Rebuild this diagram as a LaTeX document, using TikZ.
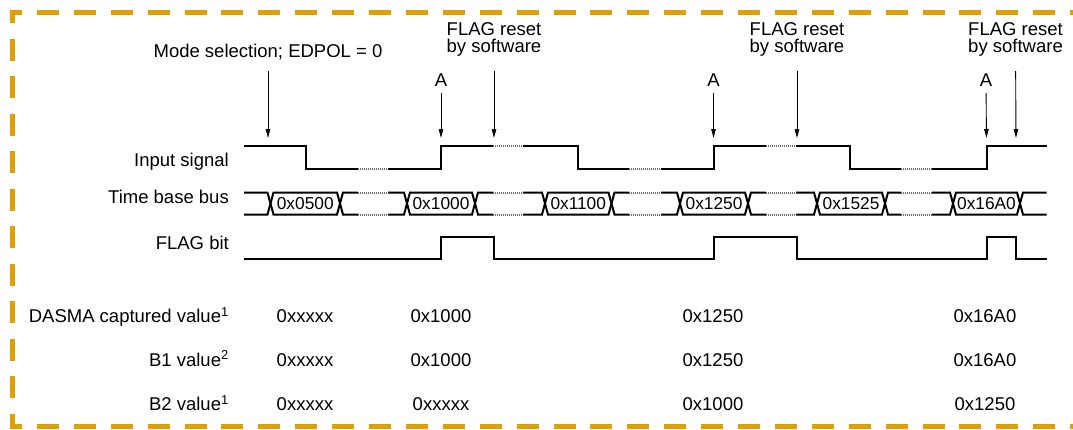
\documentclass[tikz,border=0pt]{standalone}
\usepackage{fontspec}
\setmainfont{Liberation Sans}
\usetikzlibrary{arrows.meta}
\definecolor{borderorange}{RGB}{224,160,0}
\definecolor{dotgray}{RGB}{110,110,110}
\begin{document}
\begin{tikzpicture}[x=1pt,y=-1pt,
  txt/.style={inner sep=0pt, font=\fontsize{18.5}{17.6}\selectfont},
  bustxt/.style={inner sep=0pt, font=\fontsize{17.3}{20}\selectfont, anchor=base},
  wave/.style={line width=2pt, line join=miter},
  brk/.style={line width=2.8pt, draw=white},
  brkdots/.style={line width=2pt, draw=dotgray, dash pattern=on 1.2pt off 0.8pt},
  arr/.style={line width=0.9pt, -{Triangle[length=9pt,width=4.5pt]}},
  bordh/.style={line width=5pt, draw=borderorange, dash pattern=on 22pt off 14.9pt, dash phase=9.5pt},
  bordv/.style={line width=5pt, draw=borderorange, dash pattern=on 22pt off 15.5pt, dash phase=11.5pt},
]
\useasboundingbox (0,0) rectangle (1073,429);

% dashed frame
\draw[bordh] (9.5,12.5) -- (1073,12.5);
\draw[bordh] (9.5,426.5) -- (1073,426.5);
\draw[bordv] (12,12.5) -- (12,426.5);

% ---------------- Input signal
\draw[wave] (244,146) -- (305.5,146) -- (305.5,169) -- (441,169) -- (441,146)
  -- (578,146) -- (578,169) -- (713.5,169) -- (713.5,146) -- (849.5,146)
  -- (849.5,169) -- (986.5,169) -- (986.5,146) -- (1046.5,146);

% ---------------- Time base bus
\draw[wave] (244,192.5)
  foreach \c/\ya/\yb in {270.5/192.5/214.5, 340/214.5/192.5, 407/192.5/214.5, 475/214.5/192.5,
                         545/192.5/214.5, 611.5/214.5/192.5, 680/192.5/214.5, 748/214.5/192.5,
                         817/192.5/214.5, 885/214.5/192.5, 953/192.5/214.5, 1020/214.5/192.5}
  { -- (\c-3,\ya) -- (\c+3,\yb) } -- (1046.5,192.5);
\draw[wave] (244,214.5)
  foreach \c/\ya/\yb in {270.5/214.5/192.5, 340/192.5/214.5, 407/214.5/192.5, 475/192.5/214.5,
                         545/214.5/192.5, 611.5/192.5/214.5, 680/214.5/192.5, 748/192.5/214.5,
                         817/214.5/192.5, 885/192.5/214.5, 953/214.5/192.5, 1020/192.5/214.5}
  { -- (\c-3,\ya) -- (\c+3,\yb) } -- (1046.5,214.5);

\node[bustxt] (v1) at (305.25,209.6) {0x0500};
\node[bustxt] (v2) at (441,209.6) {0x1000};
\node[bustxt] (v3) at (578.25,209.6) {0x1100};
\node[bustxt] (v4) at (714,209.6) {0x1250};
\node[bustxt] (v5) at (851,209.6) {0x1525};
\node[bustxt] (v6) at (986.5,209.6) {0x16A0};

% ---------------- FLAG bit
\draw[wave] (244,259) -- (441,259) -- (441,237) -- (494,237) -- (494,259)
  -- (713.5,259) -- (713.5,237) -- (797,237) -- (797,259) -- (986.5,259)
  -- (986.5,237) -- (1016,237) -- (1016,259) -- (1046.5,259);

% ---------------- time breaks (dotted)
\foreach \a/\b/\y in {358/388/169, 493/523/146, 629/661/169, 766/796/146, 901/932/169} {
  \draw[brk] (\a,\y) -- (\b,\y);
  \draw[brkdots] (\a,\y) -- (\b,\y);
}
\foreach \a/\b in {358/388, 493/523, 629/661, 766/796, 901/932} {
  \foreach \y in {192.5,214.5} {
    \draw[brk] (\a,\y) -- (\b,\y);
    \draw[brkdots] (\a,\y) -- (\b,\y);
  }
}

% ---------------- row labels
\node[txt, anchor=base east] (lIn)    at (229,166)   {Input signal};
\node[txt, anchor=base east] (lBus)   at (229,203.3) {Time base bus};
\node[txt, anchor=base east] (lFlag)  at (229,249.3) {FLAG bit};
\node[txt, anchor=base east] (lDasma) at (229,322.7) {DASMA captured value\textsuperscript{1}};
\node[txt, anchor=base east] (lB1)    at (229,366)   {B1 value\textsuperscript{2}};
\node[txt, anchor=base east] (lB2)    at (229,410.7) {B2 value\textsuperscript{1}};

% ---------------- value rows
\node[txt, anchor=base] (d1) at (305,322.7) {0xxxxx};
\node[txt, anchor=base] (d2) at (441,322.7) {0x1000};
\node[txt, anchor=base] (d3) at (713,322.7) {0x1250};
\node[txt, anchor=base] (d4) at (985,322.7) {0x16A0};
\node[txt, anchor=base] (b11) at (305,366) {0xxxxx};
\node[txt, anchor=base] (b12) at (441,366) {0x1000};
\node[txt, anchor=base] (b13) at (713,366) {0x1250};
\node[txt, anchor=base] (b14) at (985,366) {0x16A0};
\node[txt, anchor=base] (b21) at (305,410.7) {0xxxxx};
\node[txt, anchor=base] (b22) at (441,410.7) {0xxxxx};
\node[txt, anchor=base] (b23) at (713,410.7) {0x1000};
\node[txt, anchor=base] (b24) at (985,410.7) {0x1250};

% ---------------- annotations and arrows
\coordinate (tMode) at (268,146);
\coordinate (tA1) at (441,146);
\coordinate (tR1) at (494,146);
\coordinate (tA2) at (713.5,146);
\coordinate (tR2) at (797,146);
\coordinate (tA3) at (986.5,146);
\coordinate (tR3) at (1016,146);

\node[txt, anchor=base, text depth=0pt] (mode) at (268,57.7) {Mode selection; EDPOL = 0};
\node[txt, anchor=base, text depth=0pt] (a1) at (441,86) {A};
\node[txt, anchor=base, text depth=0pt] (a2) at (713.5,86) {A};
\node[txt, anchor=base, text depth=0pt] (a3) at (986,86) {A};
\node[txt, align=center, anchor=south] (r1) at (494,57) {FLAG reset\\by software};
\node[txt, align=center, anchor=south] (r2) at (797,57) {FLAG reset\\by software};
\node[txt, align=center, anchor=south] (r3) at (1015.5,57) {FLAG reset\\by software};

\draw[arr, shorten <=13.3pt, shorten >=8pt] (mode) -- (tMode);
\draw[arr, shorten <=7pt, shorten >=8pt] (a1) -- (tA1);
\draw[arr, shorten <=7pt, shorten >=8pt] (a2) -- (tA2);
\draw[arr, shorten <=7pt, shorten >=8pt] (a3) -- (tA3);
\draw[arr, shorten <=14pt, shorten >=8pt] (r1) -- (tR1);
\draw[arr, shorten <=14pt, shorten >=8pt] (r2) -- (tR2);
\draw[arr, shorten <=14pt, shorten >=8pt] (r3) -- (tR3);
\end{tikzpicture}
\end{document}
